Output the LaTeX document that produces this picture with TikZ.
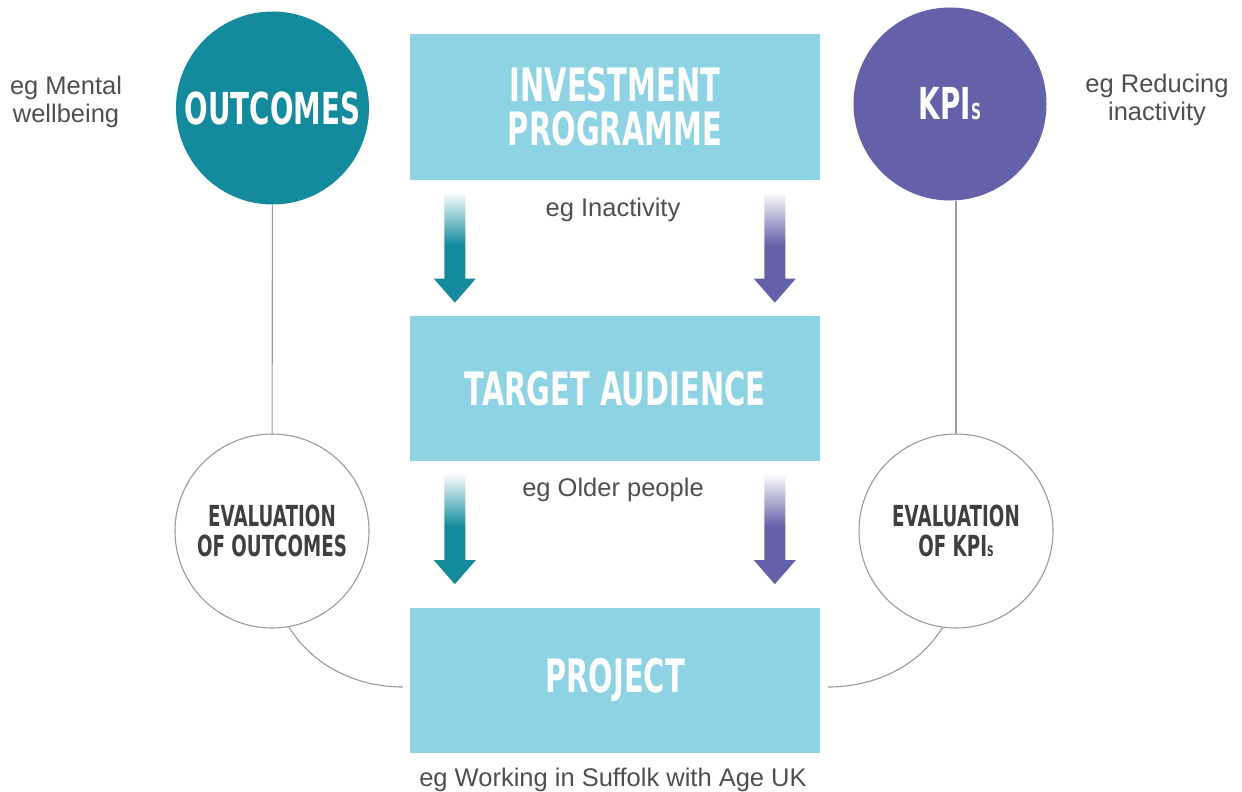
\documentclass[tikz,border=0pt]{standalone}
\usepackage{fontspec}
\setmainfont{Liberation Sans}
\newfontfamily\headfont[FakeStretch=0.63]{DejaVu Sans Bold}
\usetikzlibrary{calc}
\definecolor{outcol}{HTML}{138B9C}
\definecolor{kpicol}{HTML}{6461A8}
\definecolor{boxcol}{HTML}{8ED3E3}
\definecolor{linecol}{HTML}{9A9A9A}
\definecolor{inkcol}{HTML}{3F3F3F}
\definecolor{notecol}{HTML}{4F4F4F}
\pgfdeclareverticalshading{fadeout}{100bp}{color(0bp)=(outcol); color(51bp)=(outcol); color(75bp)=(white); color(100bp)=(white)}
\pgfdeclareverticalshading{fadekpi}{100bp}{color(0bp)=(kpicol); color(51bp)=(kpicol); color(75bp)=(white); color(100bp)=(white)}
\begin{document}
\begin{tikzpicture}[x=1pt, y=-1pt,
  box/.style = {fill=boxcol, minimum width=410pt, minimum height=145pt, text=white, align=center, font=\headfont\fontsize{46}{44}\selectfont},
  disc/.style = {circle, minimum size=193pt, text=white, font=\headfont\fontsize{44}{44}\selectfont},
  ring/.style = {draw=linecol, line width=1.1pt, circle, minimum size=194pt, text=inkcol, align=center, font=\headfont\fontsize{29}{29.5}\selectfont},
  note/.style = {text=notecol, align=center, inner sep=0pt, font=\fontsize{25.5}{27.5}\selectfont},
  link/.style = {draw=linecol, line width=1.1pt}]
\useasboundingbox (0,0) rectangle (1242,792);
% the three stages
\node[box] (invest) at (615,107) {INVESTMENT\\PROGRAMME};
\node[box] (target) at (615,388.5) {TARGET AUDIENCE};
\node[box] (project) at (615,680) {PROJECT};
% outcomes and kpis
\node[disc, fill=outcol] (outc) at (272.5,108) {OUTCOMES};
\node[disc, fill=kpicol] (kpi) at (950,104) {KPI{\fontsize{22}{22}\selectfont S}};
\node[ring] (evalout) at (272,531) {EVALUATION\\OF OUTCOMES};
\node[ring] (evalkpi) at (956,531) {EVALUATION\\OF KPI{\fontsize{14.5}{14.5}\selectfont S}};
% examples
\node[note, anchor=north] (mental) at (66,76) {eg Mental\\wellbeing};
\node[note, anchor=north] (reducing) at (1157,74) {eg Reducing\\inactivity};
\node[note, anchor=base] (inactivity) at (613,216) {eg Inactivity};
\node[note, anchor=base] (older) at (613,496) {eg Older people};
\node[note, anchor=base] (suffolk) at (613,786) {eg Working in Suffolk with Age UK};
% arrows between the stages
\foreach \from in {invest,target}
  \foreach \dx/\fade in {45/fadeout,365/fadekpi}
    \shade[shading=\fade] ([shift={(\dx-10.5,12)}]\from.south west) -- ++(21,0) -- ++(0,87) -- ++(10.5,0) -- ++(-21,24) -- ++(-21,-24) -- ++(10.5,0) -- cycle;
% links
\coordinate (projin) at ($(project.west)+(-7,7)$);
\coordinate (projout) at ($(project.east)+(8,7)$);
\draw[link] (outc) -- (evalout);
\draw[link] (kpi.south -| evalkpi) -- (evalkpi);
\draw[link] (evalout.-80) .. controls +(24,39) and +(-46,0) .. (projin);
\draw[link] (evalkpi.-98) .. controls +(-24,39) and +(46,0) .. (projout);
\end{tikzpicture}
\end{document}
